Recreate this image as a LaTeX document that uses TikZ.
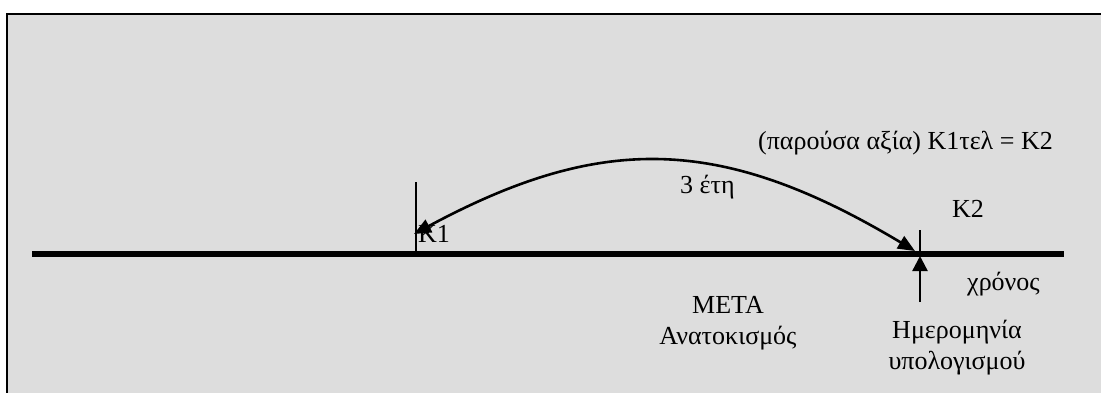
\documentclass[tikz,border=0pt]{standalone}
\usepackage{fontspec}
\setmainfont{Liberation Serif}
\usetikzlibrary{arrows.meta,positioning}
\definecolor{panel}{HTML}{DDDDDD}
\definecolor{ink}{HTML}{000000}
\tikzset{
  frame/.style={draw=ink, line width=2pt},
  txt/.style={font=\fontsize{26}{31}\selectfont, text=ink, inner sep=0pt, anchor=base west},
  stack/.style={font=\fontsize{26}{31}\selectfont, text=ink, inner sep=0pt, align=center, anchor=base},
  timeline/.style={draw=ink, line width=5.5pt},
  tickline/.style={draw=ink, line width=1.5pt},
  swing/.style={{Triangle[length=17pt,width=14pt]}-{Triangle[length=17pt,width=14pt]}, draw=ink, line width=2.6pt},
  pointer/.style={-{Triangle[length=15pt,width=15pt]}, draw=ink, line width=2.4pt}
}
\begin{document}
\begin{tikzpicture}[x=1pt,y=-1pt]
\useasboundingbox (0,0) rectangle (1101,392);
% panel
\fill[panel] (7,14) rectangle (1112,400);
\draw[frame] (1112,14) -- (7,14) -- (7,400);
% time axis and marks
\coordinate (ax0) at (32,254);
\coordinate (ax1) at (1064,254);
\coordinate (t1top) at (416,182);
\coordinate (t1bot) at (416,254);
\coordinate (t2top) at (920,230);
\coordinate (t2bot) at (920,254);
\draw[timeline] (ax0) -- (ax1);
\draw[tickline] (t1top) -- (t1bot);
\draw[tickline] (t2top) -- (t2bot);
% discounting arc
\coordinate (k1) at (414,234);
\coordinate (k2) at (915,251);
\draw[swing] (k1) .. controls (600,134) and (720,134) .. (k2);
% calculation date pointer
\coordinate (up0) at (920,302);
\coordinate (up1) at (920,256);
\draw[pointer] (up0) -- (up1);
% labels (base of a stacked label = its last line)
\node[txt] (pv) at (758,149) {(παρούσα αξία) K1τελ = K2};
\node[txt] (yrs) at (680,193) {3 έτη};
\node[txt] (lk1) at (418,242) {K1};
\node[txt] (lk2) at (952,217) {K2};
\node[txt] (time) at (967,290) {χρόνος};
\node[stack] (meta) at (728,344) {ΜΕΤΑ\\Ανατοκισμός};
\node[stack] (date) at (957,369) {Ημερομηνία\\υπολογισμού};
\end{tikzpicture}
\end{document}
